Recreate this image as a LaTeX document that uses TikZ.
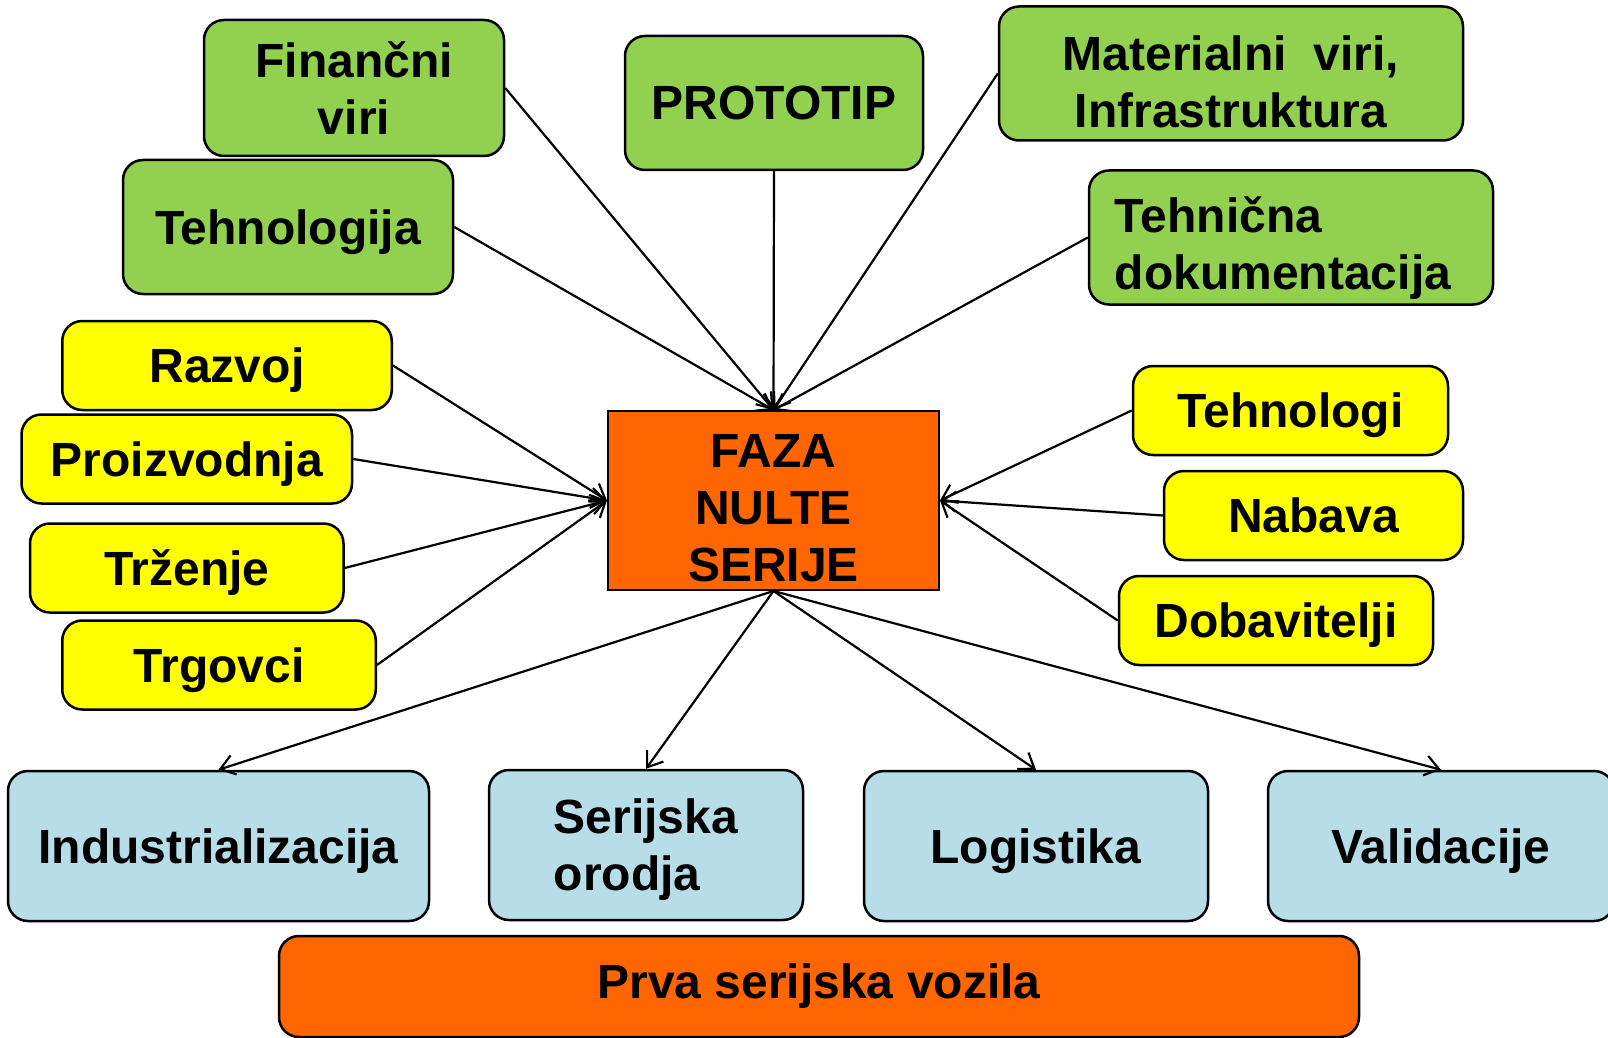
\documentclass[tikz,border=0pt]{standalone}
\usepackage{fontspec}
\setmainfont{Liberation Sans}
\usetikzlibrary{arrows.meta}
\definecolor{zelena}{HTML}{92D050}
\definecolor{rumena}{HTML}{FFFF00}
\definecolor{oranzna}{HTML}{FF6600}
\definecolor{modra}{HTML}{B7DEE8}
% first line made taller, so that the whole text block sits lower
\newcommand{\spusti}[2]{\raisebox{0pt}[\dimexpr\height+#1\relax][\depth]{#2}}

\begin{document}
\begin{tikzpicture}[x=0.5pt, y=-0.5pt,
    box/.style={draw, line width=1.25pt, rounded corners=10pt, inner sep=0pt,
        font=\fontsize{24}{28.5}\selectfont\bfseries, align=center},
    vir/.style={box, fill=zelena, minimum height=67pt},
    oseba/.style={box, fill=rumena, minimum height=44.5pt, text depth=0pt},
    izhod/.style={box, fill=modra, minimum height=75pt},
    puscica/.style={line width=1.1pt, -{Straight Barb[length=7pt,width=10pt]}}]
        \useasboundingbox (0,0) rectangle (1608,1038);

        % Resources at the top
        \node[vir, minimum width=150pt, minimum height=68pt] (fin) at (354,88) {Finančni\\viri};
        \node[vir, minimum width=149pt] (proto) at (774,103) {PROTOTIP};
        \node[vir, minimum width=232pt] (mat) at (1231,73.5) {\spusti{8pt}{Materialni~~viri,}\\Infrastruktura};
        \node[vir, minimum width=165pt, text depth=0pt] (tehnol) at (288,227) {Tehnologija};
        \node[vir, minimum width=202pt, align=left] (dok) at (1291,237.5) {\spusti{11pt}{Tehnična}\\dokumentacija\hspace*{8pt}};

        % The central phase
        \node[box, line width=1pt, rounded corners=0pt, fill=oranzna, minimum width=165.5pt, minimum height=89.5pt] (faza) at (773.5,500.5) {\spusti{8pt}{FAZA}\\NULTE\\SERIJE};

        % People on the left and right
        \node[oseba, minimum width=164.75pt] (razvoj) at (227,365.5) {Razvoj};
        \node[oseba, minimum width=165.25pt] (proizv) at (186.75,459) {Proizvodnja};
        \node[oseba, minimum width=156.75pt] (trzenje) at (186.75,568) {Trženje};
        \node[oseba, minimum width=156.75pt] (trgovci) at (219,665) {Trgovci};
        \node[oseba, minimum width=157.5pt] (tehnologi) at (1290.5,410.5) {Tehnologi};
        \node[oseba, minimum width=149.5pt] (nabava) at (1313.5,515.5) {Nabava};
        \node[oseba, minimum width=157pt] (dobav) at (1276,620.5) {Dobavitelji};

        % Outputs at the bottom
        \node[izhod, minimum width=210.5pt, text depth=0pt] (ind) at (218.5,846) {Industrializacija};
        \node[izhod, minimum width=157pt, align=left] (ser) at (646,845) {\spusti{5pt}{Serijska}\\orodja};
        \node[izhod, minimum width=172pt, text depth=0pt] (log) at (1036,846) {Logistika};
        \node[izhod, minimum width=173pt, text depth=0pt] (val) at (1441,846) {Validacije};
        \node[box, fill=oranzna, minimum width=540pt, minimum height=50.5pt] (prva) at (819,986.5) {Prva serijska vozila};

        % Arrows into the phase
        \draw[puscica] (fin.east) -- (faza.north);
        \draw[puscica] (tehnol.east) -- (faza.north);
        \draw[puscica] (proto.south) -- (faza.north);
        \draw[puscica] (mat.west) -- (faza.north);
        \draw[puscica] (dok.west) -- (faza.north);
        \draw[puscica] (razvoj.east) -- (faza.west);
        \draw[puscica] (proizv.east) -- (faza.west);
        \draw[puscica] (trzenje.east) -- (faza.west);
        \draw[puscica] (trgovci.east) -- (faza.west);
        \draw[puscica] (tehnologi.west) -- (faza.east);
        \draw[puscica] (nabava.west) -- (faza.east);
        \draw[puscica] (dobav.west) -- (faza.east);

        % Arrows out of the phase
        \draw[puscica] (faza.south) -- (ind.north);
        \draw[puscica] (faza.south) -- (ser.north);
        \draw[puscica] (faza.south) -- (log.north);
        \draw[puscica] (faza.south) -- (val.north);
\end{tikzpicture}
\end{document}
